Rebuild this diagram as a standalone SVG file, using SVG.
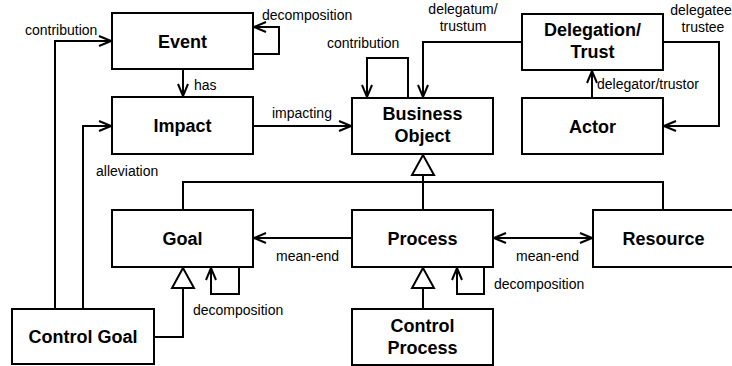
<svg xmlns="http://www.w3.org/2000/svg" width="732" height="366" viewBox="0 0 732 366">
  <style>
    .box { fill: #fff; stroke: #000; stroke-width: 2; }
    .name { font-family: "Liberation Sans", Arial, sans-serif; font-size: 18px; font-weight: bold; text-anchor: middle; fill: #000; }
    .lbl { font-family: "Liberation Sans", Arial, sans-serif; font-size: 14px; fill: #000; }
    .mid { text-anchor: middle; }
    .edge { fill: none; stroke: #000; stroke-width: 2; }
    .tri { fill: #fff; stroke: #000; stroke-width: 2; stroke-linejoin: miter; }
  </style>
  <defs>
    <marker id="open" viewBox="0 0 14 12" refX="13" refY="6" markerWidth="14" markerHeight="12" markerUnits="userSpaceOnUse" orient="auto-start-reverse">
      <path d="M1,1 L13,6 L1,11" fill="none" stroke="#000" stroke-width="2"/>
    </marker>
  </defs>

  <rect width="732" height="366" fill="#fff"/>

  <!-- connectors -->
  <g id="connectors">
    <!-- control goal contribution to event -->
    <path class="edge" d="M55,309 V41 H111" marker-end="url(#open)"/>
    <!-- control goal alleviation of impact -->
    <path class="edge" d="M83,309 V126 H111" marker-end="url(#open)"/>
    <!-- event decomposition -->
    <path class="edge" d="M253,54 H279 V27 H254" marker-end="url(#open)"/>
    <!-- event has impact -->
    <path class="edge" d="M183,69 V96" marker-end="url(#open)"/>
    <!-- impact impacting business object -->
    <path class="edge" d="M253,126 H351" marker-end="url(#open)"/>
    <!-- business object contribution -->
    <path class="edge" d="M408,98 V58 H367 V97" marker-end="url(#open)"/>
    <!-- delegatum / trustum -->
    <path class="edge" d="M522,42 H423 V97" marker-end="url(#open)"/>
    <!-- delegatee / trustee -->
    <path class="edge" d="M663,42 H719 V126 H664" marker-end="url(#open)"/>
    <!-- delegator / trustor -->
    <path class="edge" d="M592,98 V71" marker-end="url(#open)"/>
    <!-- generalisation to business object -->
    <path class="edge" d="M423,175 V210 M183,210 V182 H663 V210"/>
    <polygon class="tri" points="423,155 412,175 434,175"/>
    <!-- process mean-end goal -->
    <path class="edge" d="M352,238 H254" marker-end="url(#open)"/>
    <!-- process mean-end resource -->
    <path class="edge" d="M494,238 H592" marker-start="url(#open)" marker-end="url(#open)"/>
    <!-- goal decomposition -->
    <path class="edge" d="M239,267 V294 H211 V268" marker-end="url(#open)"/>
    <!-- process decomposition -->
    <path class="edge" d="M484,267 V294 H457 V268" marker-end="url(#open)"/>
    <!-- control goal is a goal -->
    <path class="edge" d="M154,337 H183 V288"/>
    <polygon class="tri" points="183,268 172,288 194,288"/>
    <!-- control process is a process -->
    <path class="edge" d="M423,288 V309"/>
    <polygon class="tri" points="423,268 412,288 434,288"/>
  </g>

  <!-- connector labels -->
  <g id="labels">
    <text class="lbl" x="25" y="35">contribution</text>
    <text class="lbl" x="262" y="20">decomposition</text>
    <text class="lbl" x="194" y="90">has</text>
    <text class="lbl" x="272" y="118">impacting</text>
    <text class="lbl" x="327" y="48">contribution</text>
    <text class="lbl mid" x="463" y="14">delegatum/</text>
    <text class="lbl mid" x="463" y="31">trustum</text>
    <text class="lbl mid" x="703" y="15">delegatee/</text>
    <text class="lbl mid" x="703" y="32">trustee</text>
    <text class="lbl" x="597" y="89">delegator/trustor</text>
    <text class="lbl" x="96" y="176">alleviation</text>
    <text class="lbl" x="276" y="261">mean-end</text>
    <text class="lbl" x="516" y="261">mean-end</text>
    <text class="lbl" x="193" y="315">decomposition</text>
    <text class="lbl" x="494" y="289">decomposition</text>
  </g>

  <!-- nodes -->
  <g id="event">
    <rect class="box" x="112" y="13" width="141" height="56"/>
    <text class="name" x="182.5" y="47.5">Event</text>
  </g>
  <g id="impact">
    <rect class="box" x="112" y="97" width="141" height="57"/>
    <text class="name" x="182.5" y="132">Impact</text>
  </g>
  <g id="business-object">
    <rect class="box" x="352" y="98" width="141" height="56"/>
    <text class="name" x="422.5" y="120">Business</text>
    <text class="name" x="422.5" y="142">Object</text>
  </g>
  <g id="delegation-trust">
    <rect class="box" x="522" y="14" width="141" height="56"/>
    <text class="name" x="592.5" y="36">Delegation/</text>
    <text class="name" x="592.5" y="58">Trust</text>
  </g>
  <g id="actor">
    <rect class="box" x="522" y="98" width="141" height="56"/>
    <text class="name" x="592.5" y="132.5">Actor</text>
  </g>
  <g id="goal">
    <rect class="box" x="112" y="210" width="141" height="57"/>
    <text class="name" x="182.5" y="245">Goal</text>
  </g>
  <g id="process">
    <rect class="box" x="352" y="210" width="141" height="57"/>
    <text class="name" x="422.5" y="245">Process</text>
  </g>
  <g id="resource">
    <rect class="box" x="593" y="210" width="141" height="57"/>
    <text class="name" x="663.5" y="245">Resource</text>
  </g>
  <g id="control-goal">
    <rect class="box" x="12" y="309" width="142" height="55"/>
    <text class="name" x="83" y="343">Control Goal</text>
  </g>
  <g id="control-process">
    <rect class="box" x="352" y="309" width="141" height="56"/>
    <text class="name" x="422.5" y="332">Control</text>
    <text class="name" x="422.5" y="354">Process</text>
  </g>
</svg>
